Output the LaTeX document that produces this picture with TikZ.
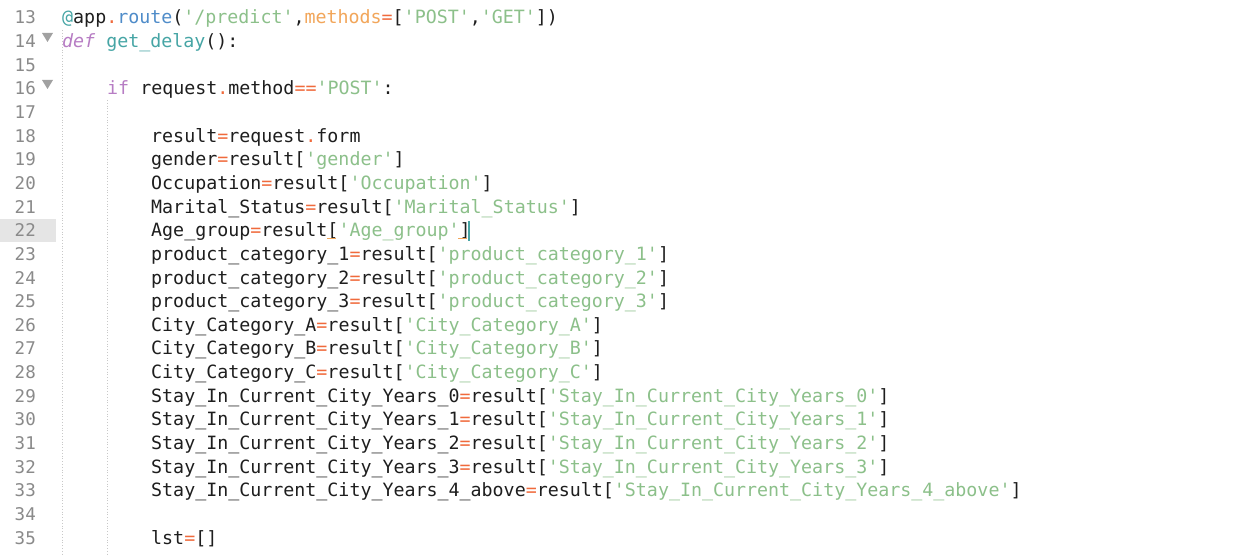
\documentclass[tikz,border=0pt]{standalone}
\usepackage{fontspec}
\newfontfamily\code[Ligatures=ResetAll]{DejaVu Sans Mono}
\definecolor{cnum}{HTML}{8A8A8A}
\definecolor{cstr}{HTML}{8CC08A}
\definecolor{cop}{HTML}{F06A3C}
\definecolor{ckw}{HTML}{B77DC4}
\definecolor{cfn}{HTML}{46A5A5}
\definecolor{cmeth}{HTML}{F2A65A}
\definecolor{cblue}{HTML}{4F8CC9}
\definecolor{ctext}{HTML}{1E1E1E}
\definecolor{cguide}{HTML}{C8C8C8}
\newcommand\q{\char"27\relax}
\newcommand\cS[1]{\textcolor{cstr}{#1}}
\newcommand\cO[1]{\textcolor{cop}{#1}}
\newcommand\cK[1]{\textcolor{ckw}{#1}}
\tikzset{
  codeline/.style={anchor=base west,inner sep=0pt,font=\code\fontsize{18.3}{20}\selectfont,text=ctext},
  lnum/.style={anchor=base east,inner sep=0pt,font=\code\fontsize{17.5}{20}\selectfont,text=cnum},
  fold/.style={fill=cnum!80,draw=none},
  guide/.style={cguide,dotted,line width=0.8pt}
}
\begin{document}
\begin{tikzpicture}[x=1pt,y=-1pt]
\useasboundingbox (0,0) rectangle (1233,556);
\fill[white] (0,0) rectangle (1233,556);
% highlighted gutter line 22
\fill[black!10] (0,219) rectangle (56,242);
% indent guides
\draw[guide] (62,30) -- (62,556);
\draw[guide] (107,100) -- (107,556);
% line numbers
\foreach \n [count=\i from 0] in {13,...,35} {
  \node[lnum] (n\n) at (36,{24+\i*23.64}) {\n};
}
% fold triangles
\fill[fold] (42,33) -- (53,33) -- (47.5,42) -- cycle;
\fill[fold] (42,80) -- (53,80) -- (47.5,89) -- cycle;
% code
\def\L#1#2#3{\node[codeline] (c#1) at (#2,{24+(#1-13)*23.64}) {#3};}
\L{13}{62}{\textcolor{cfn}{@}app\cO{.}\textcolor{cblue}{route}(\cS{\q/predict\q},\textcolor{cmeth}{methods}\cO{=}[\cS{\q POST\q},\cS{\q GET\q}])}
\L{14}{62}{\cK{\itshape def} \textcolor{cfn}{get\_delay}():}
\L{16}{107}{\cK{if} request\cO{.}method\cO{==}\cS{\q POST\q}:}
\L{18}{151}{result\cO{=}request\cO{.}form}
\L{19}{151}{gender\cO{=}result[\cS{\q gender\q}]}
\L{20}{151}{Occupation\cO{=}result[\cS{\q Occupation\q}]}
\L{21}{151}{Marital\_Status\cO{=}result[\cS{\q Marital\_Status\q}]}
\L{22}{151}{Age\_group\cO{=}result[\cS{\q Age\_group\q}]}
\L{23}{151}{product\_category\_1\cO{=}result[\cS{\q product\_category\_1\q}]}
\L{24}{151}{product\_category\_2\cO{=}result[\cS{\q product\_category\_2\q}]}
\L{25}{151}{product\_category\_3\cO{=}result[\cS{\q product\_category\_3\q}]}
\L{26}{151}{City\_Category\_A\cO{=}result[\cS{\q City\_Category\_A\q}]}
\L{27}{151}{City\_Category\_B\cO{=}result[\cS{\q City\_Category\_B\q}]}
\L{28}{151}{City\_Category\_C\cO{=}result[\cS{\q City\_Category\_C\q}]}
\L{29}{151}{Stay\_In\_Current\_City\_Years\_0\cO{=}result[\cS{\q Stay\_In\_Current\_City\_Years\_0\q}]}
\L{30}{151}{Stay\_In\_Current\_City\_Years\_1\cO{=}result[\cS{\q Stay\_In\_Current\_City\_Years\_1\q}]}
\L{31}{151}{Stay\_In\_Current\_City\_Years\_2\cO{=}result[\cS{\q Stay\_In\_Current\_City\_Years\_2\q}]}
\L{32}{151}{Stay\_In\_Current\_City\_Years\_3\cO{=}result[\cS{\q Stay\_In\_Current\_City\_Years\_3\q}]}
\L{33}{151}{Stay\_In\_Current\_City\_Years\_4\_above\cO{=}result[\cS{\q Stay\_In\_Current\_City\_Years\_4\_above\q}]}
\L{35}{151}{lst\cO{=}[]}
% bracket match underline and cursor on line 22
\draw[cmeth,line width=0.8pt] (327,238) -- (336,238);
\draw[cmeth,line width=0.8pt] (458,238) -- (467,238);
\draw[cfn,line width=1.5pt] (469,221) -- (469,241);
\end{tikzpicture}
\end{document}
